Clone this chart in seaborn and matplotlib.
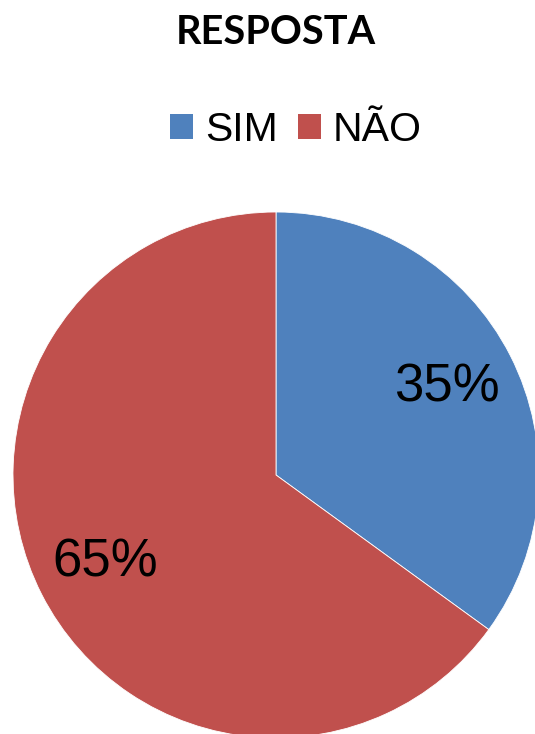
import matplotlib.pyplot as plt
import seaborn as sns
from matplotlib.patches import Patch

# Chart data
categories = ["SIM", "NÃO"]
shares = [35, 65]
slice_colors = ["#4F81BD", "#C0504D"]
title = "RESPOSTA"

sns.set_theme(style="white")
plt.rcParams["font.family"] = ["Liberation Sans", "DejaVu Sans"]
plt.rcParams["text.color"] = "black"

W, H = 535, 734
fig = plt.figure(figsize=(W / 100, H / 100), dpi=100)

# Pie axes: center at (276, 475) px from top, radius 263 px
cx, cy, r = 276, 475, 263
ax = fig.add_axes([(cx - r) / W, (H - cy - r) / H, 2 * r / W, 2 * r / H])
palette = sns.color_palette(slice_colors)
wedges, texts, autotexts = ax.pie(
    shares,
    colors=palette,
    startangle=90,
    counterclock=False,
    autopct="%1.0f%%",
    pctdistance=0.73,
    radius=1,
    wedgeprops={"edgecolor": "white", "linewidth": 0.6},
    textprops={"fontsize": 38, "color": "black"},
)
ax.set_xlim(-1, 1)
ax.set_ylim(-1, 1)
ax.set_aspect("equal")
ax.axis("off")

fig.text(cx / W, 1 - 32 / H, title, ha="center", va="center", color="black",
         fontsize=28.5, fontweight="bold", family=["Lato", "DejaVu Sans"])

handles = [Patch(facecolor=c, edgecolor="none") for c in palette]
fig.legend(handles, categories, loc="center", bbox_to_anchor=(296 / W, 1 - 130 / H),
           ncol=2, frameon=False, fontsize=29.5, handlelength=0.55, handleheight=0.55,
           handletextpad=0.3, columnspacing=0.5, labelcolor="black")

fig.savefig("out.png", dpi=100)
